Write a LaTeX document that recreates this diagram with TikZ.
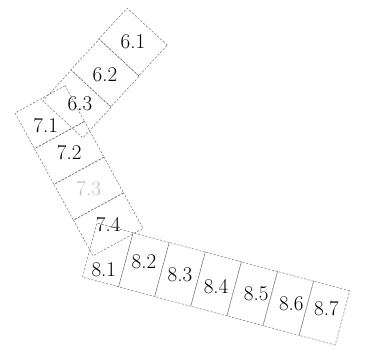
\documentclass[tikz,border=0pt]{standalone}
\begin{document}
\begin{tikzpicture}[x=1pt,y=1pt,
  cellbox/.style={draw=black!55, line width=0.5pt, dash pattern=on 2.2pt off 1.6pt, inner sep=0pt, fill=none},
  sixcell/.style={cellbox, rotate=-42.8, minimum width=54.5pt, minimum height=41.8pt},
  sevencell/.style={cellbox, rotate=28.6, minimum width=57pt, minimum height=40.7pt},
  eightcell/.style={cellbox, rotate=-15, minimum width=37.4pt, minimum height=56pt},
  lab/.style={inner sep=0pt, font=\fontsize{21}{21}\selectfont}
]
\useasboundingbox (0,0) rectangle (375,-354);
% chain 6
\node[sixcell] (c61) at (133,-42) {};
\node[sixcell] (c62) at (105,-73) {};
\node[sixcell] (c63) at (77,-104) {};
% chain 7
\node[sevencell] (c71) at (49.75,-117.2) {};
\node[sevencell] (c72) at (69.25,-152.9) {};
\node[sevencell] (c73) at (88.75,-188.6) {};
\node[sevencell] (c74) at (108.25,-224.3) {};
% chain 8
\node[eightcell] (c81) at (107.8,-254.9) {};
\node[eightcell] (c82) at (143.9,-264.6) {};
\node[eightcell] (c83) at (180.0,-274.3) {};
\node[eightcell] (c84) at (216.1,-284.0) {};
\node[eightcell] (c85) at (252.2,-293.7) {};
\node[eightcell] (c86) at (288.3,-303.4) {};
\node[eightcell] (c87) at (324.4,-313.1) {};
% labels
\node[lab] (l61) at (c61.center) {6.1};
\node[lab] (l62) at ([yshift=-2pt]c62.center) {6.2};
\node[lab] (l63) at ([xshift=3pt]c63.center) {6.3};
\node[lab] (l71) at ([xshift=-4pt,yshift=-8pt]c71.center) {7.1};
\node[lab] (l72) at (c72.center) {7.2};
\node[lab, text=black!25] (l73) at (c73.center) {7.3};
\node[lab] (l74) at (c74.center) {7.4};
\node[lab] (l81) at ([xshift=-4pt,yshift=-15pt]c81.center) {8.1};
\node[lab] (l82) at ([yshift=3pt]c82.center) {8.2};
\node[lab] (l83) at (c83.center) {8.3};
\node[lab] (l84) at ([yshift=-3pt]c84.center) {8.4};
\node[lab] (l85) at ([xshift=4pt]c85.center) {8.5};
\node[lab] (l86) at ([xshift=3pt]c86.center) {8.6};
\node[lab] (l87) at ([xshift=2pt,yshift=5pt]c87.center) {8.7};
\end{tikzpicture}
\end{document}
